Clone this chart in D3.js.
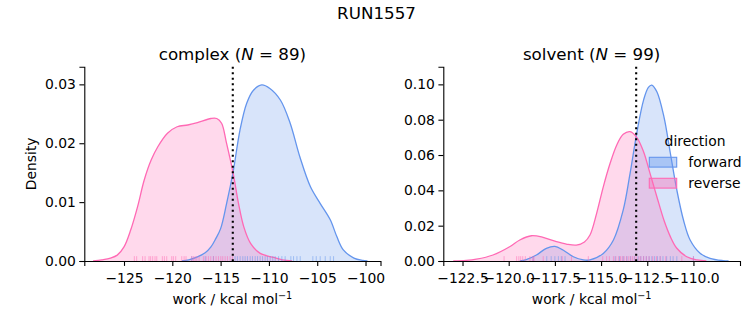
<!DOCTYPE html>
<html><head><meta charset="utf-8">
<script src="https://cdn.jsdelivr.net/npm/d3@7"></script>
<style>body{margin:0;background:#fff}svg{display:block}text{font-family:"DejaVu Sans",sans-serif;fill:#000}</style>
</head><body>
<svg id="c" width="753" height="325"></svg>
<script>
// ---------- data ----------
const suptitle = "RUN1557";
const phases = ["complex", "solvent"];
const sampleCounts = [89, 99];
const directions = ["forward", "reverse"];
const dgValues = [-113.74, -113.1]; // dotted vertical line positions

// complex – KDE curves: [work, density]
const complexForward = [[-119.0,0],[-118.3,0.0002],[-117.4,0.0007],[-116.6,0.0014],[-116.0,0.0024],[-115.5,0.0038],[-115.0,0.0055],[-114.4,0.0096],[-113.7,0.0152],[-113.0,0.0222],[-112.3,0.0268],[-111.6,0.029],[-110.75,0.0299],[-109.9,0.0293],[-108.8,0.0273],[-107.8,0.0234],[-106.8,0.0177],[-105.7,0.0126],[-104.7,0.0098],[-103.65,0.007],[-102.96,0.0041],[-102.3,0.0019],[-101.2,0.0005],[-100.3,0.0001],[-99.8,0]];
const complexReverse = [[-128.2,0],[-127.3,0.0002],[-126.4,0.0005],[-125.7,0.001],[-125.0,0.0024],[-124.3,0.0053],[-123.6,0.0092],[-122.9,0.0138],[-122.2,0.0171],[-121.5,0.0194],[-120.5,0.0217],[-119.5,0.0228],[-118.4,0.0231],[-117.4,0.0235],[-116.0,0.0242],[-115.4,0.0242],[-114.9,0.0234],[-114.4,0.0201],[-113.7,0.0149],[-113.15,0.0098],[-112.6,0.0058],[-111.9,0.003],[-110.9,0.0013],[-109.5,0.0006],[-108.6,0.0002],[-107.6,0]];
// solvent – KDE curves
const solventForward = [[-119.4,0],[-119.05,0.0008],[-118.5,0.0034],[-117.96,0.0072],[-117.5,0.0083],[-117.06,0.0062],[-116.5,0.0024],[-115.96,0.0006],[-115.6,0.0006],[-114.88,0.0043],[-114.33,0.0119],[-113.8,0.0289],[-113.43,0.0496],[-113.07,0.0723],[-112.7,0.0911],[-112.44,0.0983],[-112.26,0.0996],[-111.98,0.0958],[-111.6,0.0817],[-111.25,0.061],[-110.9,0.0402],[-110.54,0.0232],[-110.18,0.0119],[-109.64,0.0044],[-109.1,0.0015],[-108.4,0.0002],[-108.1,0]];
const solventReverse = [[-123.0,0],[-122.3,0.0003],[-121.75,0.001],[-120.85,0.0034],[-119.95,0.0081],[-119.4,0.0119],[-118.77,0.0143],[-118.14,0.0134],[-117.42,0.011],[-116.88,0.0096],[-116.34,0.009],[-115.9,0.0108],[-115.6,0.0147],[-115.24,0.027],[-114.88,0.042],[-114.51,0.0553],[-114.15,0.0657],[-113.8,0.0717],[-113.43,0.0732],[-113.07,0.070],[-112.7,0.0619],[-112.35,0.0496],[-111.98,0.0364],[-111.6,0.0232],[-111.25,0.0138],[-110.9,0.0072],[-110.36,0.0024],[-109.8,0.0006],[-109.3,0]];

// rug samples
const complexForwardRug = [-117.99,-116.6,-115.74,-113.5,-113.26,-112.98,-112.7,-112.46,-112.22,-111.94,-111.7,-111.42,-111.18,-110.91,-110.66,-110.39,-110.15,-109.87,-109.6,-109.35,-109.0,-108.66,-108.32,-107.73,-107.45,-107.1,-106.76,-105.45,-105.1,-104.69,-104.17,-103.65,-103.31];
const complexReverseRug = [-123.93,-123.69,-123.07,-122.82,-122.41,-122.24,-122.03,-121.79,-121.61,-121.03,-120.82,-120.58,-120.06,-119.89,-119.65,-119.02,-118.78,-118.58,-117.99,-117.82,-117.64,-117.47,-117.23,-116.78,-116.5,-116.26,-116.02,-115.74,-115.47,-115.22,-114.98,-114.78,-114.53,-114.29,-114.02,-113.77];
const solventForwardRug = [-118.67,-117.94,-117.7,-117.5,-117.31,-117.15,-116.95,-114.24,-114.0,-113.8,-113.6,-113.4,-113.2,-113.0,-112.85,-112.7,-112.55,-112.4,-112.25,-112.1,-111.95,-111.8,-111.65,-111.45,-111.25,-111.1,-110.9,-110.0];
const solventReverseRug = [-120.25,-119.57,-119.45,-119.35,-119.24,-119.1,-118.85,-118.7,-118.63,-118.13,-117.1,-116.6,-115.69,-114.91,-114.7,-114.55,-114.33,-114.2,-114.05,-113.95,-113.85,-113.75,-113.62,-113.5,-113.4,-113.3,-113.2,-113.1,-112.95,-112.85,-112.7,-112.55,-112.4,-112.2,-112.0,-111.8,-111.5,-110.63,-110.0];

const complexXTicks = [-125,-120,-115,-110,-105,-100];
const complexYTicks = [0,0.01,0.02,0.03];
const solventXTicks = [-122.5,-120,-117.5,-115,-112.5,-110];
const solventYTicks = [0,0.02,0.04,0.06,0.08,0.10];

// ---------- drawing ----------
const colors = {forward:"#6495ED", reverse:"#FF69B4"};
const svg = d3.select("#c");
const fs = 13.9;
const minus = s => s.replace(/-/g, "\u2212");

svg.append("text").attr("x",376.5).attr("y",19).attr("text-anchor","middle").style("font-size","16.7px").text(suptitle);

const panels = [
  {name:phases[0], n:sampleCounts[0], x0:84.3, x1:380.5, xd:[-129.11,-98.45], yd:[0,0.033], xt:complexXTicks, yt:complexYTicks, xf:d=>minus(d3.format("d")(d)), yf:d3.format(".2f"),
   curves:{forward:complexForward, reverse:complexReverse}, rugs:{forward:complexForwardRug, reverse:complexReverseRug}, dg:dgValues[0], ylabel:true},
  {name:phases[1], n:sampleCounts[1], x0:443.3, x1:740, xd:[-123.54,-107.48], yd:[0,0.110], xt:solventXTicks, yt:solventYTicks, xf:d=>minus(d3.format(".1f")(d)), yf:d3.format(".2f"),
   curves:{forward:solventForward, reverse:solventReverse}, rugs:{forward:solventForwardRug, reverse:solventReverseRug}, dg:dgValues[1], legend:true}
];
const yTop = 66.7, yBot = 261;

panels.forEach(p => {
  const x = d3.scaleLinear().domain(p.xd).range([p.x0, p.x1]);
  const y = d3.scaleLinear().domain(p.yd).range([yBot, yTop]);
  const g = svg.append("g");
  const area = d3.area().x(d=>x(d[0])).y0(y(0)).y1(d=>y(d[1])).curve(d3.curveCatmullRom);
  const line = d3.line().x(d=>x(d[0])).y(d=>y(d[1])).curve(d3.curveCatmullRom);
  directions.forEach(dir => {
    g.append("path").datum(p.curves[dir]).attr("d", area).attr("fill", colors[dir]).attr("fill-opacity",0.25);
  });
  directions.forEach(dir => {
    g.append("path").datum(p.curves[dir]).attr("d", line).attr("fill","none").attr("stroke", colors[dir]).attr("stroke-width",1.3);
  });
  // rugs
  const rh = (yBot - yTop) * 0.025;
  directions.forEach(dir => {
    g.selectAll(null).data(p.rugs[dir]).enter().append("line")
      .attr("x1", d=>x(d)).attr("x2", d=>x(d)).attr("y1", yBot).attr("y2", yBot - rh)
      .attr("stroke", colors[dir]).attr("stroke-width",1).attr("stroke-opacity",0.5);
  });
  // dotted line
  g.append("line").attr("x1", x(p.dg)).attr("x2", x(p.dg)).attr("y1", yTop).attr("y2", yBot)
    .attr("stroke","#000").attr("stroke-width",2.1).attr("stroke-dasharray","2.1,3.4");
  // axes
  const xa = d3.axisBottom(x).tickValues(p.xt).tickFormat(p.xf).tickSizeOuter(0).tickSize(4.9).tickPadding(3.5);
  const gx = g.append("g").attr("transform", `translate(0,${yBot})`).call(xa);
  const ya = d3.axisLeft(y).tickValues(p.yt).tickFormat(p.yf).tickSizeOuter(0).tickSize(4.9).tickPadding(3.5);
  const gy = g.append("g").attr("transform", `translate(${p.x0},0)`).call(ya);
  [gx, gy].forEach(a => {
    a.select(".domain").attr("stroke","#000").attr("stroke-width",1.1);
    a.selectAll(".tick line").attr("stroke","#000").attr("stroke-width",1.1);
    a.selectAll(".tick text").style("font-size", fs+"px").style("font-family","DejaVu Sans").attr("fill","#000");
  });
  gx.selectAll(".tick text").attr("dy","0.95em");
  // title
  const cx = (p.x0 + p.x1) / 2;
  const t = g.append("text").attr("x", cx).attr("y", 60).attr("text-anchor","middle").style("font-size","16.7px");
  t.append("tspan").text(p.name + " (");
  t.append("tspan").style("font-style","italic").text("N");
  t.append("tspan").text(" = " + p.n + ")");
  // xlabel
  const xl = g.append("text").attr("x", cx).attr("y", 304).attr("text-anchor","middle").style("font-size", fs+"px");
  xl.append("tspan").text("work / kcal mol");
  xl.append("tspan").attr("dy",-5.5).style("font-size","9.7px").text("\u22121");
  if (p.ylabel) {
    g.append("text").attr("transform", `translate(36,${(yTop+yBot)/2}) rotate(-90)`).attr("text-anchor","middle").style("font-size", fs+"px").text("Density");
  }
  if (p.legend) {
    const lg = g.append("g");
    lg.append("text").attr("x", 695).attr("y", 146).attr("text-anchor","middle").style("font-size", fs+"px").text("direction");
    directions.forEach((dir, i) => {
      const yy = 157.3 + i * 21;
      lg.append("rect").attr("x", 649.3).attr("y", yy).attr("width", 27.4).attr("height", 9.8)
        .attr("fill", colors[dir]).attr("fill-opacity", 0.4).attr("stroke", colors[dir]).attr("stroke-width",1.1);
      lg.append("text").attr("x", 688.3).attr("y", yy + 9.3).style("font-size", fs+"px").text(dir);
    });
  }
});
</script>
</body></html>
